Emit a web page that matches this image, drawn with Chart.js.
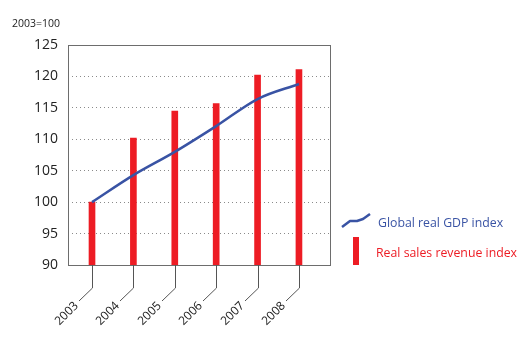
<!DOCTYPE html>
<html><head><meta charset="utf-8">
<script src="https://cdn.jsdelivr.net/npm/chart.js@4/dist/chart.umd.min.js"></script>
<style>html,body{margin:0;padding:0;background:#fff}#wrap{width:526px;height:338px;position:relative}</style>
</head><body><div id="wrap"><canvas id="c" width="526" height="338"></canvas></div>
<script>
const years = [2003, 2004, 2005, 2006, 2007, 2008];
const salesIndex = [100, 110.2, 114.5, 115.7, 120.2, 121.1];
const gdpIndex = [100, 104.3, 108.0, 112.1, 116.4, 118.8];
const yTicks = [90, 95, 100, 105, 110, 115, 120, 125];
const unitLabel = '2003=100';
const seriesNames = ['Global real GDP index', 'Real sales revenue index'];

const FONT = '"Open Sans", Lato, sans-serif';
const BLUE = '#3953a4';
const RED = '#ed1c24';

const decor = {
  id: 'decor',
  afterDatasetsDraw(chart) {
    const ctx = chart.ctx, a = chart.chartArea, x = chart.scales.x;
    ctx.save();
    // plot box
    ctx.strokeStyle = '#6d6d6d'; ctx.lineWidth = 1;
    ctx.strokeRect(Math.round(a.left) + 0.5, Math.round(a.top) + 0.5, Math.round(a.right - a.left), Math.round(a.bottom - a.top));
    // x leader lines and labels
    ctx.strokeStyle = '#555'; ctx.fillStyle = '#222';
    ctx.font = '12px ' + FONT;
    ctx.textAlign = 'right'; ctx.textBaseline = 'middle';
    years.forEach(y => {
      const px = Math.round(x.getPixelForValue(y)) + 0.5;
      ctx.beginPath();
      ctx.moveTo(px, a.bottom);
      ctx.lineTo(px, a.bottom + 23);
      ctx.lineTo(px - 13.5, a.bottom + 36);
      ctx.stroke();
      ctx.save();
      ctx.translate(px - 16, a.bottom + 39);
      ctx.rotate(-Math.PI / 4);
      ctx.fillText(String(y), 0, 0);
      ctx.restore();
    });
    // unit label
    ctx.textAlign = 'left'; ctx.textBaseline = 'middle';
    ctx.font = '10.5px ' + FONT;
    ctx.fillText(unitLabel, 12, 24);
    // legend
    ctx.strokeStyle = BLUE; ctx.lineWidth = 2.5; ctx.lineJoin = 'round';
    ctx.beginPath();
    ctx.moveTo(342, 227); ctx.lineTo(350, 221); ctx.lineTo(357, 221); ctx.lineTo(363, 219); ctx.lineTo(370, 214);
    ctx.stroke();
    ctx.font = '12.3px ' + FONT;
    ctx.fillStyle = BLUE;
    ctx.fillText(seriesNames[0], 378, 223);
    ctx.fillStyle = RED;
    ctx.fillRect(353, 237, 6, 28);
    ctx.fillText(seriesNames[1], 376, 253);
    ctx.restore();
  }
};

new Chart(document.getElementById('c'), {
  data: {
    datasets: [
      {
        type: 'line',
        data: years.map((y, i) => ({x: y, y: gdpIndex[i]})),
        borderColor: BLUE, borderWidth: 2.5, pointRadius: 0,
        cubicInterpolationMode: 'monotone', fill: false, order: 0
      },
      {
        type: 'bar',
        data: years.map((y, i) => ({x: y, y: salesIndex[i]})),
        backgroundColor: RED, borderWidth: 0, barThickness: 6, order: 1
      }
    ]
  },
  options: {
    responsive: false, animation: false,
    layout: {padding: {top: 45, right: 196, bottom: 73, left: 0}},
    plugins: {legend: {display: false}, tooltip: {enabled: false}},
    scales: {
      x: {
        type: 'linear', display: false, min: 2002.42, max: 2008.75,
        offset: false
      },
      y: {
        min: 90, max: 125,
        afterFit(s) { s.width = 68; },
        afterBuildTicks(s) { s.ticks = yTicks.map(v => ({value: v})); },
        ticks: {font: {family: FONT, size: 14}, color: '#222', padding: 10},
        grid: {
          drawTicks: false,
          color: c => (c.tick && (c.tick.value === 90 || c.tick.value === 125)) ? 'rgba(0,0,0,0)' : '#8a8a8a',
          lineWidth: 1
        },
        border: {display: false, dash: [1, 3]}
      }
    }
  },
  plugins: [decor]
});
</script></body></html>
